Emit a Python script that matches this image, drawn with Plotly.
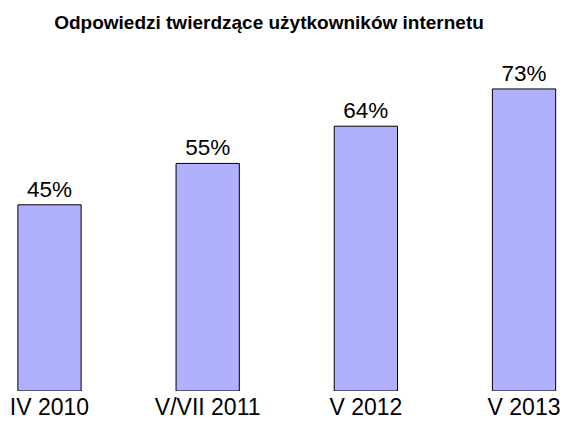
import plotly.graph_objects as go

categories = ["IV 2010", "V/VII 2011", "V 2012", "V 2013"]
values = [45, 55, 64, 73]
labels = ["45%", "55%", "64%", "73%"]
positions = [0, 1, 2, 3]

FONT = "Liberation Sans, Arial, sans-serif"

fig = go.Figure()
fig.add_trace(go.Bar(
    x=positions, y=values, width=0.4,
    marker=dict(color="#b0b0ff", line=dict(color="#000000", width=1)),
    text=labels, textposition="outside", constraintext="none",
    textfont=dict(family=FONT, size=22.5, color="#000000"),
    cliponaxis=False, showlegend=False, hoverinfo="skip",
))

fig.update_layout(
    width=565, height=425,
    margin=dict(l=0, r=0, t=60, b=34),
    paper_bgcolor="white", plot_bgcolor="white",
    title=dict(text="<b>Odpowiedzi twierdzące użytkowników internetu</b>",
               x=269 / 565, xanchor="center", y=1 - 22 / 425, yanchor="middle",
               font=dict(family=FONT, size=19, color="#000000")),
    xaxis=dict(range=[-0.313, 3.259], showgrid=False, zeroline=False,
               tickvals=positions, ticktext=categories, ticks="",
               tickfont=dict(family=FONT, size=23, color="#000000")),
    yaxis=dict(range=[0, 80], showgrid=False, zeroline=False,
               showticklabels=False, ticks=""),
)

fig.write_html("out.html", config={"displayModeBar": False},
               post_script="document.body.style.margin='0';")
